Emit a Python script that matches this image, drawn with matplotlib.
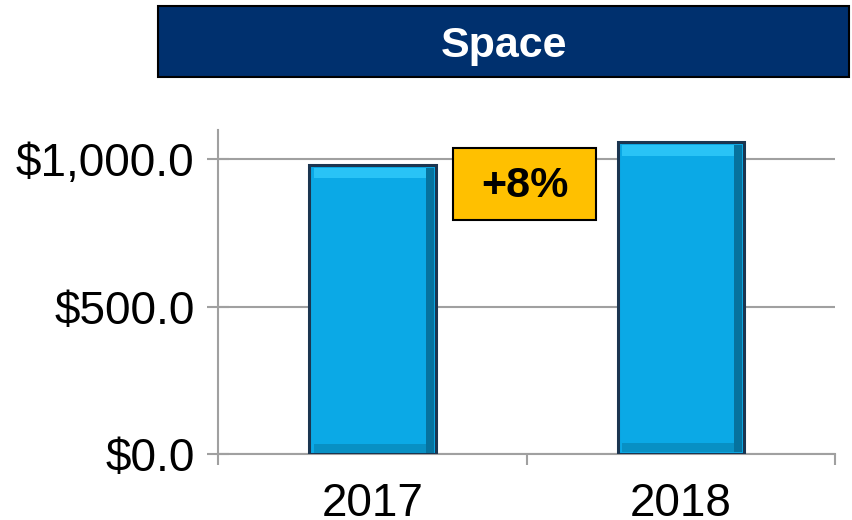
import matplotlib
matplotlib.use('Agg')
import matplotlib.pyplot as plt
from matplotlib.patches import Rectangle
from matplotlib.ticker import FuncFormatter

# Datos del gráfico
anios = ['2017', '2018']
valores = [982, 1060]
titulo = 'Space'
crecimiento = '+8%'
ticks_y = [0, 500, 1000]

plt.rcParams['font.family'] = ['Liberation Sans', 'DejaVu Sans']

fig = plt.figure(figsize=(8.52, 5.2), dpi=100)
ax = fig.add_axes([0.256, 0.127, 0.724, 0.623])

x = list(range(len(anios)))
ancho = 0.41
ax.bar(x, valores, width=ancho, color='#0BA9E6', edgecolor='#1B3550',
       linewidth=2.2, zorder=3)
# bisel: brillo arriba, sombra abajo y a la derecha
ax.bar(x, [v * 0.035 for v in valores], bottom=[v * 0.955 for v in valores],
       width=ancho - 0.03, color='#29C3F6', linewidth=0, zorder=4)
ax.bar(x, [v * 0.03 for v in valores], bottom=[v * 0.005 for v in valores],
       width=ancho - 0.03, color='#0890C4', linewidth=0, zorder=4)
ax.bar([i + ancho / 2 - 0.018 for i in x], [v * 0.985 for v in valores],
       bottom=[v * 0.005 for v in valores], width=0.026, color='#06729E',
       linewidth=0, zorder=5)

ax.set_xlim(-0.5, len(anios) - 0.5)
ax.set_ylim(0, 1100)
ax.set_yticks(ticks_y)
ax.yaxis.set_major_formatter(FuncFormatter(lambda v, p: f'${v:,.1f}'))
ax.set_xticks(x)
ax.set_xticklabels(anios)
ax.set_xticks([-0.5, 0.5, 1.5], minor=True)
ax.tick_params(axis='x', which='major', length=0, pad=20, labelsize=33)
ax.tick_params(axis='x', which='minor', length=8, width=1.5, color='#A0A0A0')
ax.tick_params(axis='y', direction='inout', length=16, width=1.5, color='#A0A0A0',
               labelsize=33, pad=9)

ax.grid(axis='y', color='#A0A0A0', linewidth=1.5, zorder=0)
for lado in ['top', 'right']:
    ax.spines[lado].set_visible(False)
for lado in ['left', 'bottom']:
    ax.spines[lado].set_color('#A0A0A0')
    ax.spines[lado].set_linewidth(1.5)

# Caja del título
fig.patches.append(Rectangle((0.186, 0.852), 0.81, 0.137, transform=fig.transFigure,
                             facecolor='#00306E', edgecolor='black', linewidth=1.5))
fig.text(0.591, 0.912, titulo, color='white', fontsize=31, fontweight='bold',
         ha='center', va='center')

# Caja del crecimiento
fig.patches.append(Rectangle((0.532, 0.577), 0.168, 0.138, transform=fig.transFigure,
                             facecolor='#FFC000', edgecolor='black', linewidth=1.5,
                             zorder=6))
fig.text(0.616, 0.643, crecimiento, fontsize=31, fontweight='bold', ha='center',
         va='center', zorder=7)

fig.savefig('out.png', dpi=100)
plt.close('all')
